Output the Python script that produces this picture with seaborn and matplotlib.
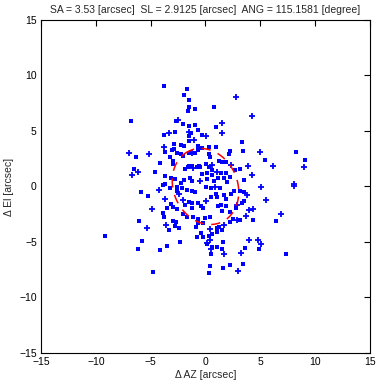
import numpy as np
import matplotlib
matplotlib.use("Agg")
import matplotlib.pyplot as plt
import seaborn as sns

# offsets [arcsec]
dots_x = [-2.69, -2.02, -1.53, -0.93, 0.96, 3.33, -3.78, -2.78, -1.47, -1.32, -0.68, -0.35,
          -1.50, -2.26, -1.96, -2.87, -2.87, -3.72, -3.02, -2.63, -3.24, -0.65, -0.68, -0.29,
          0.32, 0.93, 2.20, 2.17, 3.45, -2.26, -2.08, -1.47, -0.93, 0.29, 0.44, 1.23, 1.84,
          1.53, 0.08, -2.93, -4.15, -2.96, -1.47, -1.20, -0.81, -1.57, -1.84, -0.62, -0.47,
          0.29, 0.11, 0.59, -0.32, 1.38, 1.84, 2.66, 3.15, 3.51, 0.56, 0.17, 0.81, 1.17, 1.66,
          2.26, 1.99, 1.32, 0.47, 0.05, -1.23, -1.41, -1.99, -2.26, -2.78, -3.15, -3.69, -4.64,
          -2.63, -2.57, -2.14, -1.72, -1.23, -0.96, -3.66, -3.91, -3.21, -3.12, -2.57, -1.84,
          -1.47, -1.20, -1.26, -0.68, -0.38, -0.23, 0.47, 0.96, 1.08, 1.72, 1.90, 2.29, 2.57,
          3.12, 3.51, 3.54, 3.30, 2.78, 1.87, 1.41, 1.17, 1.50, 2.23, 2.23, 1.20, 1.08, 1.53,
          1.02, 0.62, -0.23, -0.08, -0.68, -1.17, -1.72, -2.02, -2.99, -3.54, -3.84, -3.78,
          -2.99, -2.66, -2.81, -2.39, -0.23, 0.32, 0.17, 0.56, 1.63, 1.50, 3.60, -6.03, -0.38,
          -0.90, -0.65, 0.41, 3.15, 2.51, -3.78, -1.69, -1.96, -1.50, -1.50, -1.60, -6.79,
          -6.34, -6.52, -5.88, -5.24, -9.16, -5.79, -6.15, -4.15, -3.51, -2.32, -4.79, -3.33,
          0.77, -0.96, 5.42, 8.25, 9.07, 6.43, 4.88, 7.34, 3.42, 2.23, 1.60, 0.50, 0.41, 0.32,
          4.33, 1.05, -0.77]
dots_y = [5.93, 5.63, 5.48, 5.57, 5.33, 4.04, 4.67, 4.91, 4.58, 4.79, 5.06, 4.67,
          4.10, 3.77, 3.68, 3.83, 3.35, 3.11, 3.26, 2.99, 2.63, 3.62, 3.29, 3.44,
          3.59, 3.59, 3.20, 2.96, 3.20, 2.90, 2.78, 3.05, 2.99, 2.93, 2.63, 2.30, 2.21,
          2.24, 2.06, 2.33, 2.09, 2.00, 1.82, 1.85, 1.79, 1.79, 1.55, 1.85, 1.76,
          1.76, 1.25, 1.46, 1.13, 1.19, 1.19, 1.49, 1.61, 0.59, 1.04, 0.65, 0.50, 0.74, 0.80,
          0.89, 0.38, -0.14, -0.17, -0.02, 0.53, 0.74, 0.56, 0.29, 0.65, 0.74, 0.98, 1.34,
          -0.02, -0.41, -0.17, -0.32, -0.38, -0.47, 0.20, 0.17, -0.14, -1.58, -2.06, -1.70,
          -1.43, -1.52, -1.94, -1.46, -1.73, -1.94, -0.98, -0.68, -0.95, -0.77, -1.13, -0.71, -0.44,
          -0.44, -0.47, -1.31, -1.46, -1.91, -1.73, -1.70, -1.76, -2.18, -2.27, -3.17, -3.62, -3.77, -3.92,
          -4.10, -4.28, -3.26, -2.87, -2.90, -2.72, -2.72, -2.48, -1.88, -1.97, -2.42, -2.72,
          -3.08, -3.20, -3.56, -3.71, -4.55, -4.49, -5.18, -5.48, -5.03, -5.60, -5.57, -3.08, -4.22,
          -3.62, -3.32, -2.78, -3.02, -2.90, 9.05, 8.78, 8.24, 7.79, 7.16, 6.80, 5.89,
          2.66, 1.58, -0.50, -0.86, -4.46, -4.91, -5.63, -5.72, -5.36, -5.00, -7.70, -3.92,
          7.16, 6.98, 2.39, 3.11, 2.39, -3.11, -5.63, -6.08, -6.98, -7.07, -7.34, -6.08, -7.16, -7.79,
          -3.02, -5.45, -4.55]

plus_x = [1.53, -3.36, -1.53, 0.05, -1.02, -3.81, 4.97, -1.20, 2.29, 0.56, -1.11, 1.05,
          3.84, 4.27, 0.84, -0.50, -2.39, -4.21, -3.66, -2.08, 0.05, 3.75, 2.90, 3.97, 2.84,
          1.72, 0.38, -3.63, 0.41, -2.55, -6.97, -5.15, -6.15, -6.70, -4.88, -5.33, 2.78,
          4.24, 6.15, 8.98, 8.07, 8.07, 5.06, 5.52, 6.88, 5.06, 4.79, 3.97, 3.24, 2.96, 1.69,
          0.50, 0.14, 1.50, 4.33, 3.69]
plus_y = [5.69, 4.85, 4.91, 4.55, 4.16, 3.53, 3.08, 2.99, 1.94, 1.94, 1.64, 1.31,
          1.88, 1.01, -0.02, 0.53, -0.68, -0.29, -1.16, -1.22, -1.34, -0.77, -1.67, -2.12, -3.02,
          -3.47, -3.80, -3.47, -4.82, 6.00, 3.02, 2.93, 1.31, 1.04, -2.03, -3.74, 8.06,
          6.35, 1.85, 1.76, 0.23, 0.05, -0.05, -1.22, -2.48, -5.18, -4.82, -4.82, -5.99, -7.61, -6.08,
          -5.63, -5.09, 4.82, -2.03, -2.66]

# ellipse parameters from the title
SA = 3.53
SL = 2.9125
ANG = 115.1581

sns.set_style("white")
plt.rcParams['font.family'] = ['Liberation Sans', 'DejaVu Sans']
plt.rcParams['font.size'] = 7.5

fig = plt.figure(figsize=(3.86, 3.87), dpi=100)
ax = fig.add_axes([0.1062, 0.0879, 0.8523, 0.8605])

sns.scatterplot(x=dots_x, y=dots_y, marker='s', s=6.5, color='#0000ff', linewidth=0, ax=ax)
sns.scatterplot(x=plus_x, y=plus_y, marker='+', s=15, color='#0000ff', linewidth=1.3, ax=ax)

t = np.linspace(0, 2 * np.pi, 300)
th = np.deg2rad(ANG)
ex = SA * np.cos(t) * np.cos(th) - SL * np.sin(t) * np.sin(th)
ey = SA * np.cos(t) * np.sin(th) + SL * np.sin(t) * np.cos(th)
ax.plot(ex, ey, color='red', linestyle=(0, (6, 5)), linewidth=1.1, zorder=3)

ax.set_xlim(-15, 15)
ax.set_ylim(-15, 15)
ax.set_xticks(range(-15, 16, 5))
ax.set_yticks(range(-15, 16, 5))
ax.tick_params(direction='in', length=4, width=0.8, top=True, right=True,
               labelsize=7.5, pad=3, colors='black')
for sp in ax.spines.values():
    sp.set_color('black')
    sp.set_linewidth(0.8)

ax.set_xlabel('Δ AZ [arcsec]', fontsize=7.5, labelpad=2)
ax.set_ylabel('Δ El [arcsec]', fontsize=7.5, labelpad=4)
ax.set_title('SA = 3.53 [arcsec]  SL = 2.9125 [arcsec]  ANG = 115.1581 [degree]',
             fontsize=7.5, pad=5)

fig.savefig('out.png', dpi=100)
